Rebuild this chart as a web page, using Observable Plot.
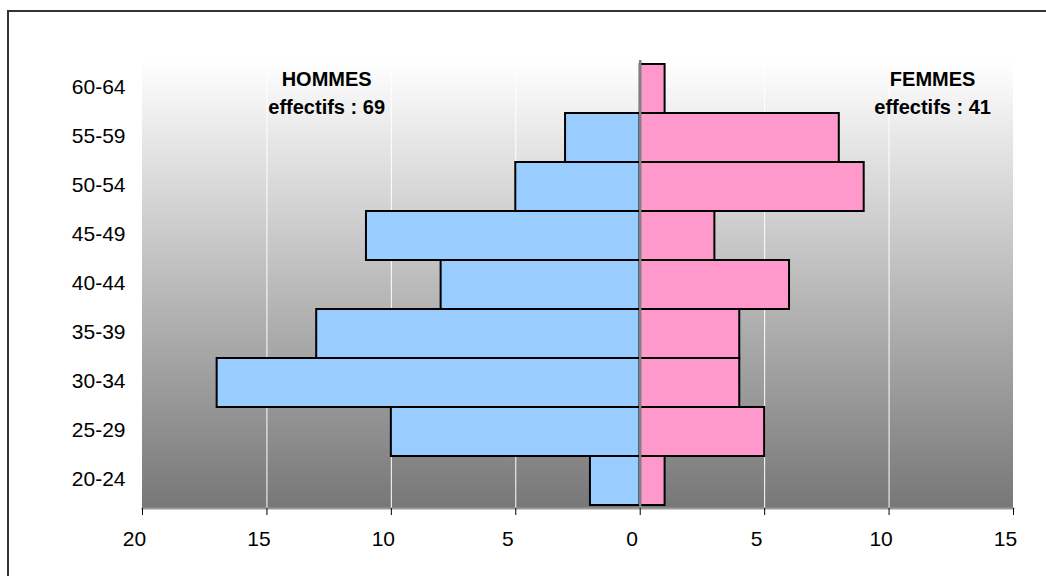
<!DOCTYPE html>
<html><head><meta charset="utf-8">
<script src="https://cdn.jsdelivr.net/npm/d3@7"></script>
<script src="https://cdn.jsdelivr.net/npm/@observablehq/plot@0.6"></script>
<style>
body{margin:0;background:#fff;font-family:Arial,"Liberation Sans",sans-serif;}
#wrap{position:relative;width:1046px;height:576px;overflow:hidden;}
#wrap svg{position:absolute;left:0;top:0;}
#border{position:absolute;left:7px;top:10px;width:1100px;height:700px;border-top:2px solid #333;border-left:2px solid #333;}
</style></head><body><div id="wrap"><div id="border"></div></div>
<script>
const ageGroups = ["60-64","55-59","50-54","45-49","40-44","35-39","30-34","25-29","20-24"];
const hommes = [0,3,5,11,8,13,17,10,2];
const femmes = [1,8,9,3,6,4,4,5,1];
const xTicks = [-20,-15,-10,-5,0,5,10,15];
const gridTicks = [-15,-10,-5,5,10];
const groupTitles = ["HOMMES","FEMMES"];
const groupCounts = [69,41];

const data = ageGroups.map((age,i)=>({age, hommes:hommes[i], femmes:femmes[i]}));
const labels = [
  {x:-12.6, y:"60-64", text:`${groupTitles[0]}\neffectifs : ${groupCounts[0]}`},
  {x:11.75, y:"60-64", text:`${groupTitles[1]}\neffectifs : ${groupCounts[1]}`}
];

const bg = (index, scales, values, dims) => {
  const g = d3.create("svg:g");
  const grad = g.append("defs").append("linearGradient").attr("id","bgGrad")
    .attr("x1",0).attr("y1",0).attr("x2",0).attr("y2",1);
  grad.append("stop").attr("offset","0%").attr("stop-color","#ffffff");
  grad.append("stop").attr("offset","100%").attr("stop-color","#777777");
  g.append("rect")
    .attr("x", dims.marginLeft).attr("y", dims.marginTop)
    .attr("width", dims.width-dims.marginLeft-dims.marginRight)
    .attr("height", dims.height-dims.marginTop-dims.marginBottom)
    .attr("fill","url(#bgGrad)");
  return g.node();
};

const chart = Plot.plot({
  width:1046, height:576,
  marginLeft:142, marginRight:33, marginTop:60, marginBottom:68,
  style:{fontFamily:"Arial, 'Liberation Sans', sans-serif", fontSize:"21px", color:"#000", background:"transparent"},
  x:{domain:[-20,15], label:null},
  y:{domain:ageGroups, padding:0, label:null},
  marks:[
    bg,
    Plot.ruleX(gridTicks, {stroke:"white", strokeWidth:1}),
    Plot.barX(data.filter(d=>d.hommes>0), {x1:d=>-d.hommes, x2:0, y:"age", fill:"#99ccff", stroke:"black", strokeWidth:2}),
    Plot.barX(data.filter(d=>d.femmes>0), {x1:0, x2:d=>d.femmes, y:"age", fill:"#ff99cc", stroke:"black", strokeWidth:2}),
    Plot.ruleX([0], {stroke:"#808080", strokeWidth:2.5}),
    Plot.frame({anchor:"bottom", stroke:"#9a9a9a", strokeWidth:2}),
    Plot.axisX({ticks:xTicks, tickFormat:()=>"", tickSize:7, stroke:"black"}),
    Plot.axisX({ticks:xTicks, tickFormat:d=>Math.abs(d), tickSize:0, tickPadding:23, dx:-8, fontSize:21}),
    Plot.axisY({tickSize:0, tickPadding:17, dy:-2, fontSize:21}),
    Plot.text(labels, {x:"x", y:"y", text:"text", fontWeight:"bold", fontSize:20, lineHeight:1.4, dy:2, fill:"black"})
  ]
});
document.getElementById("wrap").prepend(chart);
</script>
</body></html>
